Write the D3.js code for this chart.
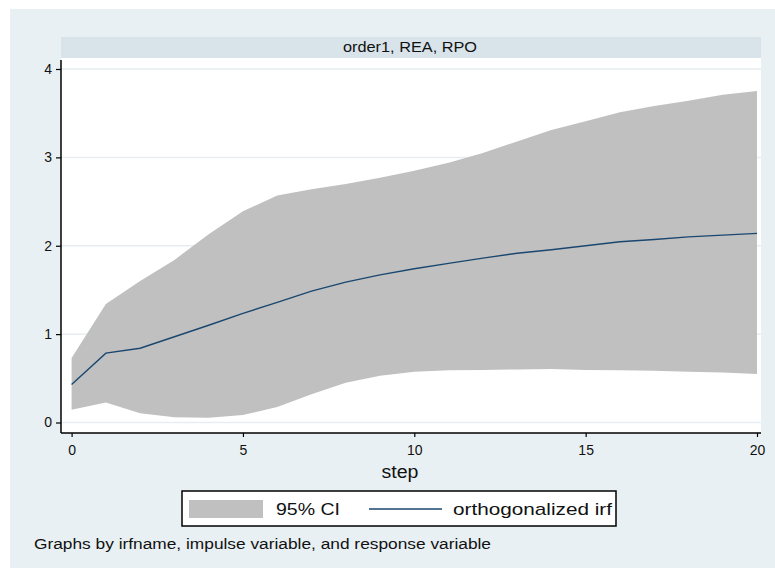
<!DOCTYPE html>
<html>
<head>
<meta charset="utf-8">
<script src="https://cdn.jsdelivr.net/npm/d3@7"></script>
<style>
  html, body { margin: 0; padding: 0; background: #ffffff; }
  svg { display: block; }
  text { font-family: "Liberation Sans", Arial, sans-serif; fill: #111; }
</style>
</head>
<body>
<svg id="chart" width="775" height="569"></svg>
<script>
// ---- data ----
const steps = d3.range(0, 21);
const irf   = [0.43, 0.785, 0.84, 0.97, 1.10, 1.235, 1.36, 1.486, 1.588, 1.67, 1.74,
               1.80, 1.86, 1.915, 1.955, 2.00, 2.045, 2.07, 2.10, 2.12, 2.14];
const upper = [0.73, 1.34, 1.60, 1.84, 2.13, 2.39, 2.57, 2.64, 2.70, 2.77, 2.85,
               2.94, 3.05, 3.18, 3.31, 3.41, 3.51, 3.58, 3.64, 3.71, 3.75];
const lower = [0.145, 0.225, 0.105, 0.06, 0.055, 0.085, 0.176, 0.32, 0.45, 0.53, 0.573,
               0.59, 0.595, 0.60, 0.605, 0.595, 0.59, 0.585, 0.575, 0.565, 0.55];
const yTicks = [0, 1, 2, 3, 4];
const xTicks = [0, 5, 10, 15, 20];
const panelTitle = "order1, REA, RPO";
const xTitle = "step";
const legendLabels = ["95% CI", "orthogonalized irf"];
const note = "Graphs by irfname, impulse variable, and response variable";

const svg = d3.select("#chart");

// background
svg.append("rect").attr("x", 10).attr("y", 9).attr("width", 765).attr("height", 559)
  .attr("fill", "#e8f0f3");

// plot region
const plot = {left: 61, right: 761, top: 58, bottom: 433};
svg.append("rect").attr("x", plot.left).attr("y", 37).attr("width", plot.right - plot.left).attr("height", 21)
  .attr("fill", "#d8e4ea");
svg.append("text").attr("x", 410).attr("y", 52).attr("text-anchor", "middle")
  .attr("font-size", 14).attr("textLength", 134).attr("lengthAdjust", "spacingAndGlyphs")
  .text(panelTitle);
svg.append("rect").attr("x", plot.left).attr("y", plot.top).attr("width", plot.right - plot.left)
  .attr("height", plot.bottom - plot.top).attr("fill", "#ffffff");

const x = d3.scaleLinear().domain([0, 20]).range([71.6, 757]);
const y = d3.scaleLinear().domain([0, 4]).range([422.5, 69]);

// gridlines
svg.append("g").selectAll("line").data(yTicks).join("line")
  .attr("x1", plot.left).attr("x2", plot.right)
  .attr("y1", d => y(d)).attr("y2", d => y(d))
  .attr("stroke", "#e6eef1").attr("stroke-width", 1.5);

// CI band
const band = steps.map((s, i) => ({s, lo: lower[i], hi: upper[i]}));
svg.append("path").datum(band)
  .attr("d", d3.area().x(d => x(d.s)).y0(d => y(d.lo)).y1(d => y(d.hi)))
  .attr("fill", "#c0c0c0");

// irf line
svg.append("path").datum(steps.map((s, i) => ({s, v: irf[i]})))
  .attr("d", d3.line().x(d => x(d.s)).y(d => y(d.v)))
  .attr("fill", "none").attr("stroke", "#1a476f").attr("stroke-width", 1.4);

// axes
const yAxis = svg.append("g").attr("transform", `translate(${plot.left},0)`)
  .call(d3.axisLeft(y).tickValues(yTicks).tickFormat(d3.format("d")).tickSize(5).tickPadding(4));
yAxis.select(".domain").attr("d", `M0,60V${plot.bottom}`).attr("stroke", "#000").attr("stroke-width", 1.5);
yAxis.selectAll(".tick line").attr("stroke", "#000").attr("stroke-width", 1.2);
yAxis.selectAll(".tick text").attr("font-size", 14).attr("font-family", "Liberation Sans, Arial, sans-serif").attr("fill", "#111");

const xAxis = svg.append("g").attr("transform", `translate(0,${plot.bottom})`)
  .call(d3.axisBottom(x).tickValues(xTicks).tickFormat(d3.format("d")).tickSize(4).tickPadding(8));
xAxis.select(".domain").attr("d", `M${plot.left},0H${plot.right}`).attr("stroke", "#000").attr("stroke-width", 1.5);
xAxis.selectAll(".tick line").attr("stroke", "#000").attr("stroke-width", 1.2);
xAxis.selectAll(".tick text").attr("font-size", 14).attr("font-family", "Liberation Sans, Arial, sans-serif").attr("fill", "#111");

svg.append("text").attr("x", 400).attr("y", 478).attr("text-anchor", "middle")
  .attr("font-size", 18).attr("textLength", 37).attr("lengthAdjust", "spacingAndGlyphs").text(xTitle);

// legend
const lg = svg.append("g");
lg.append("rect").attr("x", 182).attr("y", 491).attr("width", 434).attr("height", 35)
  .attr("fill", "#ffffff").attr("stroke", "#000").attr("stroke-width", 1.5);
lg.append("rect").attr("x", 189).attr("y", 500).attr("width", 74).attr("height", 18).attr("fill", "#c0c0c0");
lg.append("text").attr("x", 276).attr("y", 515).attr("font-size", 17)
  .attr("textLength", 64).attr("lengthAdjust", "spacingAndGlyphs").text(legendLabels[0]);
lg.append("line").attr("x1", 369).attr("x2", 442).attr("y1", 509).attr("y2", 509)
  .attr("stroke", "#1a476f").attr("stroke-width", 1.4);
lg.append("text").attr("x", 453).attr("y", 515).attr("font-size", 17)
  .attr("textLength", 159).attr("lengthAdjust", "spacingAndGlyphs").text(legendLabels[1]);

// note
svg.append("text").attr("x", 34).attr("y", 549).attr("font-size", 14)
  .attr("textLength", 457).attr("lengthAdjust", "spacingAndGlyphs").text(note);
</script>
</body>
</html>
